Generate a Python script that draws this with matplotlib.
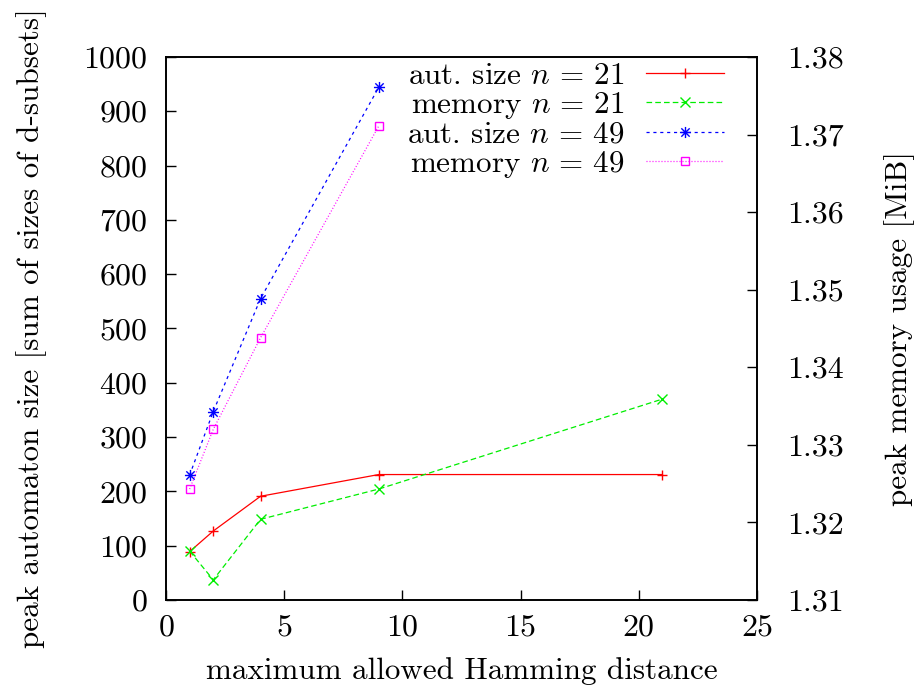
import matplotlib
matplotlib.use('Agg')
import matplotlib.pyplot as plt
from matplotlib.path import Path

plt.rcParams['font.family'] = 'cmr10'
plt.rcParams['mathtext.fontset'] = 'cm'
plt.rcParams['axes.formatter.use_mathtext'] = True
plt.rcParams['font.size'] = 22.4

# hamming distance
dist = [1, 2, 4, 9, 21]
dist49 = [1, 2, 4, 9]
# left axis: peak automaton size
aut21 = [89, 127, 191, 231, 231]
aut49 = [230, 347, 555, 944]
# right axis: peak memory usage in MiB
mem21 = [1.3163, 1.3126, 1.3204, 1.3243, 1.3359]
mem49 = [1.3243, 1.3320, 1.3438, 1.3711]

xticks = [0, 5, 10, 15, 20, 25]
yticks_left = [0, 100, 200, 300, 400, 500, 600, 700, 800, 900, 1000]
yticks_right = [1.31, 1.32, 1.33, 1.34, 1.35, 1.36, 1.37, 1.38]

# gnuplot style "*" point = plus and cross together
star = Path([(-1, 0), (1, 0), (0, -1), (0, 1),
             (-0.75, -0.75), (0.75, 0.75), (-0.75, 0.75), (0.75, -0.75)],
            [Path.MOVETO, Path.LINETO] * 4)

fig = plt.figure(figsize=(9.15, 6.89), dpi=100)
ax = fig.add_axes([0.1814, 0.1292, 0.6459, 0.7881])
ax2 = ax.twinx()

l1, = ax.plot(dist, aut21, color='#ff0000', lw=0.9, marker='+', ms=7, mew=1,
              label=r'aut. size $n\,=\,21$')
l3, = ax.plot(dist49, aut49, color='#0000ff', lw=0.9, marker=star, ms=8, mew=1,
              dashes=(2.5, 3), label=r'aut. size $n\,=\,49$')
l2, = ax2.plot(dist, mem21, color='#00ee00', lw=0.9, marker='x', ms=7, mew=1,
               dashes=(4.5, 2.5), label=r'memory $n\,=\,21$')
l4, = ax2.plot(dist49, mem49, color='#ff00ff', lw=0.9, marker='s', ms=6, mew=1,
               mfc='none', dashes=(0.8, 1.6), label=r'memory $n\,=\,49$')

ax.set_xlim(0, 25)
ax.set_ylim(0, 1000)
ax2.set_ylim(1.31, 1.38)
ax.set_xticks(xticks)
ax.set_yticks(yticks_left)
ax2.set_yticks(yticks_right)
ax2.set_yticklabels(['%.2f' % v for v in yticks_right])

for a in (ax, ax2):
    for s in a.spines.values():
        s.set_linewidth(1.2)
ax.tick_params(axis='both', direction='in', length=7, width=1, labelsize=23)
ax.tick_params(axis='y', right=False, pad=13)
ax.tick_params(axis='x', pad=10)
ax2.tick_params(axis='y', direction='in', length=7, width=1, pad=22, labelsize=23)

ax.set_xlabel('maximum allowed Hamming distance')
ax.set_ylabel('peak automaton size [sum of sizes of d-subsets]')
ax2.set_ylabel('peak memory usage [MiB]')
ax.xaxis.set_label_coords(0.5, -0.105)
ax.yaxis.set_label_coords(-0.201, 0.5)
ax2.yaxis.set_label_coords(1.215, 0.5)

leg = ax2.legend([l1, l2, l3, l4], [l.get_label() for l in (l1, l2, l3, l4)],
                 loc='upper right', bbox_to_anchor=(0.944, 0.99),
                 frameon=False, markerfirst=False, borderpad=0, borderaxespad=0,
                 labelspacing=0.0, handlelength=2.5, handletextpad=0.7)

fig.savefig('out.png', dpi=100)
